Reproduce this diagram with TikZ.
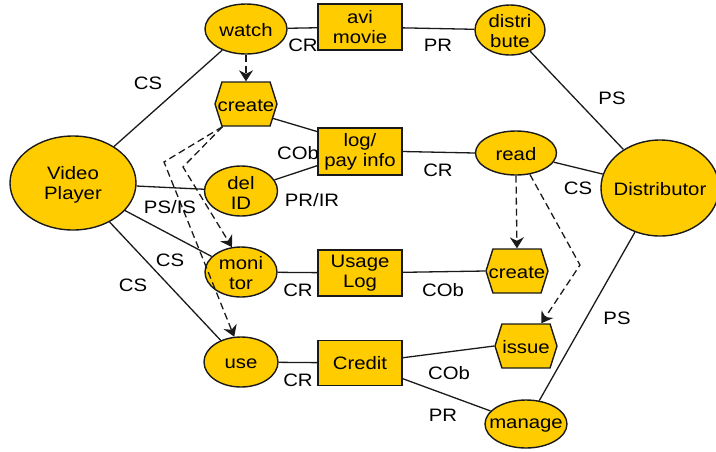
\documentclass[tikz,border=0pt]{standalone}
\usepackage{fontspec}
\setmainfont{Liberation Sans}[FakeStretch=1.13]
\usetikzlibrary{shapes.geometric,shapes.symbols,arrows.meta}
\definecolor{gold}{HTML}{FFCC00}
\definecolor{ink}{HTML}{1A1A1A}

\begin{document}
\begin{tikzpicture}[x=1pt,y=-1pt,
  font=\fontsize{18pt}{20pt}\selectfont,
  every label/.style={align=center,inner sep=0pt,yshift=-1.5pt},
  oval/.style={ellipse,draw=ink,fill=gold,line width=1.4pt,inner sep=0pt},
  box/.style={rectangle,draw=ink,fill=gold,line width=1.4pt,
    minimum width=84pt,minimum height=46pt,inner sep=0pt,align=center},
  hexa/.style={signal,signal to=east and west,signal pointer angle=145,
    draw=ink,fill=gold,line width=1.4pt,minimum width=62pt,minimum height=44pt,inner sep=0pt},
  link/.style={draw=ink,line width=1.3pt},
  flow/.style={link,dash pattern=on 7pt off 4pt,
    -{Stealth[length=11pt,width=14pt,inset=3.5pt]}},
  tag/.style={inner sep=0pt}
]
\useasboundingbox (0,0) rectangle (716,451);

% roles
\node[oval,minimum width=126pt,minimum height=94pt,label={center:{Video\\Player}}] (vp) at (73,183) {};
\node[oval,minimum width=118pt,minimum height=96pt,label={center:Distributor}] (dist) at (660,188) {};

% activities
\node[oval,minimum width=82pt,minimum height=50pt,label={center:watch}] (watch) at (246,29) {};
\node[oval,minimum width=70pt,minimum height=50pt,label={center:{distri\\bute}}] (distribute) at (510,30) {};
\node[oval,minimum width=81pt,minimum height=44pt,label={center:read}] (read) at (516,153) {};
\node[oval,minimum width=73pt,minimum height=50pt,label={center:{del\\ID}}] (del) at (241,191) {};
\node[oval,minimum width=72pt,minimum height=50pt,label={center:{moni\\tor}}] (mon) at (241,272) {};
\node[oval,minimum width=74pt,minimum height=50pt,label={center:use}] (use) at (241,362) {};
\node[oval,minimum width=82pt,minimum height=48pt,label={center:manage}] (manage) at (526,424) {};

% events
\node[hexa,label={center:create}] (create1) at (246,104) {};
\node[hexa,label={center:create}] (create2) at (517,271) {};
\node[hexa,label={center:issue}] (issue) at (526,346) {};

% resources
\node[box] (avi) at (360,27) {avi\\movie};
\node[box,minimum height=47pt] (log) at (360,151.5) {log/\\pay info};
\node[box] (usage) at (360,273) {Usage\\Log};
\node[box,minimum height=45pt] (credit) at (360,363) {Credit};

% bends of the dashed flows
\coordinate (bendA) at (183,167);
\coordinate (bendB) at (164,162);
\coordinate (bendC) at (580,265);

% relations
\draw[link] (vp) -- (watch);
\draw[link] (vp) -- (del);
\draw[link] (vp) -- (mon);
\draw[link] (vp) -- (use);
\draw[link] (watch) -- (avi);
\draw[link] (avi) -- (distribute);
\draw[link] (distribute) -- (dist);
\draw[link] (create1.-28) -- (log.155);
\draw[link] (del) -- (log);
\draw[link] (log.east) -- (read.west);
\draw[link] (read) -- (dist);
\draw[link] (mon) -- (usage);
\draw[link] (usage) -- (create2.west);
\draw[link] (use) -- (credit);
\draw[link] (credit.7) -- (issue.west);
\draw[link] (credit) -- (manage);
\draw[link] (manage) -- (dist);

% dashed flows
\draw[flow] (watch.south) -- (create1.north);
\draw[flow] (create1.-136) -- (bendA) -- (mon.110);
\draw[flow] (create1.-136) -- (bendB) -- (use.105);
\draw[flow] (read.south) -- (create2.north);
\draw[flow] (read.-57) -- (bendC) -- (issue.56);

% relation labels
\node[tag] (t1) at (148,83) {CS};
\node[tag] (t2) at (303,45) {CR};
\node[tag] (t3) at (438,45) {PR};
\node[tag] (t4) at (612,98) {PS};
\node[tag] (t5) at (298,153) {COb};
\node[tag] (t6) at (438,170) {CR};
\node[tag] (t7) at (578,188) {CS};
\node[tag] (t8) at (312,200) {PR/IR};
\node[tag] (t9) at (170,207) {PS/IS};
\node[tag] (t10) at (170,260) {CS};
\node[tag] (t11) at (133,285) {CS};
\node[tag] (t12) at (298,290) {CR};
\node[tag] (t13) at (443,290) {COb};
\node[tag] (t14) at (298,380) {CR};
\node[tag] (t15) at (449,373) {COb};
\node[tag] (t16) at (443,415) {PR};
\node[tag] (t17) at (617,318) {PS};
\end{tikzpicture}
\end{document}
